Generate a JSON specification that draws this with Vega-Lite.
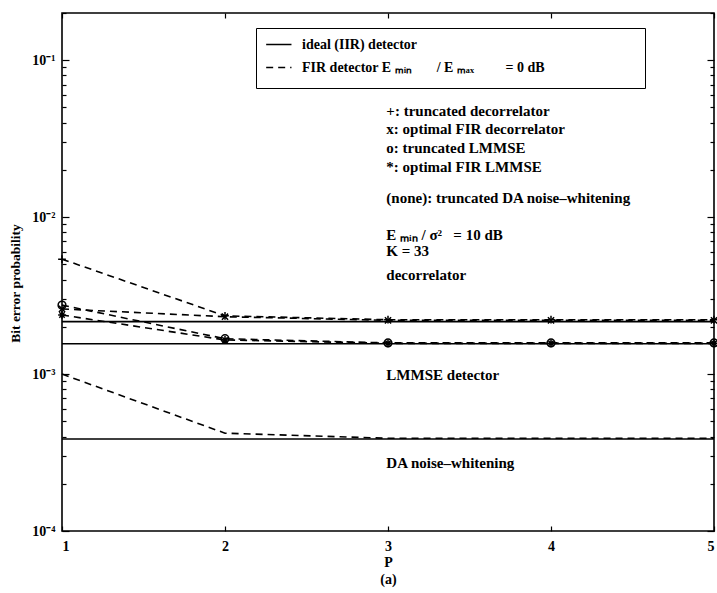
{
  "$schema": "https://vega.github.io/schema/vega-lite/v6.json",
  "width": 652,
  "height": 518,
  "autosize": {"type": "none"},
  "padding": {"left": 62, "top": 13, "right": 3, "bottom": 62},
  "background": "white",
  "config": {
    "view": {"stroke": "black", "strokeWidth": 1.6},
    "font": "Liberation Serif",
    "axis": {
      "domain": false,
      "grid": false,
      "tickColor": "black",
      "tickWidth": 1.2,
      "labelColor": "black",
      "labelFont": "Liberation Serif",
      "labelFontWeight": "bold",
      "labelFontSize": 14,
      "titleColor": "black",
      "titleFont": "Liberation Serif",
      "titleFontWeight": "bold",
      "titleFontSize": 14
    }
  },
  "datasets": {
    "curves": [
      {"series": "ideal decorrelator", "kind": "ideal (IIR) detector", "marker": "none", "P": 1, "ber": 0.00216},
      {"series": "ideal decorrelator", "kind": "ideal (IIR) detector", "marker": "none", "P": 2, "ber": 0.00216},
      {"series": "ideal decorrelator", "kind": "ideal (IIR) detector", "marker": "none", "P": 3, "ber": 0.00216},
      {"series": "ideal decorrelator", "kind": "ideal (IIR) detector", "marker": "none", "P": 4, "ber": 0.00216},
      {"series": "ideal decorrelator", "kind": "ideal (IIR) detector", "marker": "none", "P": 5, "ber": 0.00216},
      {"series": "ideal LMMSE", "kind": "ideal (IIR) detector", "marker": "none", "P": 1, "ber": 0.00156},
      {"series": "ideal LMMSE", "kind": "ideal (IIR) detector", "marker": "none", "P": 2, "ber": 0.00156},
      {"series": "ideal LMMSE", "kind": "ideal (IIR) detector", "marker": "none", "P": 3, "ber": 0.00156},
      {"series": "ideal LMMSE", "kind": "ideal (IIR) detector", "marker": "none", "P": 4, "ber": 0.00156},
      {"series": "ideal LMMSE", "kind": "ideal (IIR) detector", "marker": "none", "P": 5, "ber": 0.00156},
      {"series": "ideal DA", "kind": "ideal (IIR) detector", "marker": "none", "P": 1, "ber": 0.000386},
      {"series": "ideal DA", "kind": "ideal (IIR) detector", "marker": "none", "P": 2, "ber": 0.000386},
      {"series": "ideal DA", "kind": "ideal (IIR) detector", "marker": "none", "P": 3, "ber": 0.000386},
      {"series": "ideal DA", "kind": "ideal (IIR) detector", "marker": "none", "P": 4, "ber": 0.000386},
      {"series": "ideal DA", "kind": "ideal (IIR) detector", "marker": "none", "P": 5, "ber": 0.000386},
      {"series": "truncated decorrelator", "kind": "FIR", "marker": "plus", "P": 1, "ber": 0.0054},
      {"series": "truncated decorrelator", "kind": "FIR", "marker": "plus", "P": 2, "ber": 0.00235},
      {"series": "truncated decorrelator", "kind": "FIR", "marker": "plus", "P": 3, "ber": 0.00222},
      {"series": "truncated decorrelator", "kind": "FIR", "marker": "plus", "P": 4, "ber": 0.00222},
      {"series": "truncated decorrelator", "kind": "FIR", "marker": "plus", "P": 5, "ber": 0.00222},
      {"series": "optimal FIR decorrelator", "kind": "FIR", "marker": "cross", "P": 1, "ber": 0.0026},
      {"series": "optimal FIR decorrelator", "kind": "FIR", "marker": "cross", "P": 2, "ber": 0.00232},
      {"series": "optimal FIR decorrelator", "kind": "FIR", "marker": "cross", "P": 3, "ber": 0.0022},
      {"series": "optimal FIR decorrelator", "kind": "FIR", "marker": "cross", "P": 4, "ber": 0.0022},
      {"series": "optimal FIR decorrelator", "kind": "FIR", "marker": "cross", "P": 5, "ber": 0.0022},
      {"series": "truncated LMMSE", "kind": "FIR", "marker": "circle", "P": 1, "ber": 0.00275},
      {"series": "truncated LMMSE", "kind": "FIR", "marker": "circle", "P": 2, "ber": 0.00168},
      {"series": "truncated LMMSE", "kind": "FIR", "marker": "circle", "P": 3, "ber": 0.00158},
      {"series": "truncated LMMSE", "kind": "FIR", "marker": "circle", "P": 4, "ber": 0.00158},
      {"series": "truncated LMMSE", "kind": "FIR", "marker": "circle", "P": 5, "ber": 0.00158},
      {"series": "optimal FIR LMMSE", "kind": "FIR", "marker": "star", "P": 1, "ber": 0.00238},
      {"series": "optimal FIR LMMSE", "kind": "FIR", "marker": "star", "P": 2, "ber": 0.00165},
      {"series": "optimal FIR LMMSE", "kind": "FIR", "marker": "star", "P": 3, "ber": 0.00157},
      {"series": "optimal FIR LMMSE", "kind": "FIR", "marker": "star", "P": 4, "ber": 0.00157},
      {"series": "optimal FIR LMMSE", "kind": "FIR", "marker": "star", "P": 5, "ber": 0.00157},
      {"series": "truncated DA noise-whitening", "kind": "FIR", "marker": "none", "P": 1, "ber": 0.001},
      {"series": "truncated DA noise-whitening", "kind": "FIR", "marker": "none", "P": 2, "ber": 0.00042},
      {"series": "truncated DA noise-whitening", "kind": "FIR", "marker": "none", "P": 3, "ber": 0.00039},
      {"series": "truncated DA noise-whitening", "kind": "FIR", "marker": "none", "P": 4, "ber": 0.00039},
      {"series": "truncated DA noise-whitening", "kind": "FIR", "marker": "none", "P": 5, "ber": 0.00039}
    ],
    "notes": [
      {"label": "+: truncated decorrelator", "P": 2.99, "ber": 0.0472},
      {"label": "x: optimal FIR decorrelator", "P": 2.99, "ber": 0.0367},
      {"label": "o: truncated LMMSE", "P": 2.99, "ber": 0.0277},
      {"label": "*: optimal FIR LMMSE", "P": 2.99, "ber": 0.021},
      {"label": "(none): truncated DA noise–whitening", "P": 2.99, "ber": 0.0132},
      {"label": "E ₘᵢₙ  / σ²\u2002 = 10 dB", "P": 2.99, "ber": 0.0077},
      {"label": "K = 33", "P": 2.99, "ber": 0.0061},
      {"label": "decorrelator", "P": 2.99, "ber": 0.0043},
      {"label": "LMMSE detector", "P": 2.99, "ber": 0.00098},
      {"label": "DA noise–whitening", "P": 2.99, "ber": 0.00027}
    ]
  },
  "layer": [
    {
      "data": {"name": "curves"},
      "mark": {"type": "line", "color": "black", "strokeWidth": 1.6},
      "encoding": {
        "x": {
          "field": "P",
          "type": "quantitative",
          "scale": {"domain": [1, 5], "nice": false, "zero": false},
          "axis": {
            "orient": "bottom",
            "values": [1, 2, 3, 4, 5],
            "format": "d",
            "tickSize": -5,
            "labelPadding": 13,
            "title": ["P", "(a)"],
            "titleLineHeight": 17,
            "titlePadding": 2
          }
        },
        "y": {
          "field": "ber",
          "type": "quantitative",
          "scale": {"type": "log", "domain": [0.0001, 0.2], "nice": false, "zero": false},
          "axis": {
            "orient": "left",
            "values": [0.0001, 0.0002, 0.0003, 0.0004, 0.0005, 0.0006, 0.0007, 0.0008, 0.0009, 0.001, 0.002, 0.003, 0.004, 0.005, 0.006, 0.007, 0.008, 0.009, 0.01, 0.02, 0.03, 0.04, 0.05, 0.06, 0.07, 0.08, 0.09, 0.1, 0.2],
            "labelExpr": "abs(datum.value - 0.1) < 1e-9 ? '10⁻¹' : abs(datum.value - 0.01) < 1e-9 ? '10⁻²' : abs(datum.value - 0.001) < 1e-9 ? '10⁻³' : abs(datum.value - 0.0001) < 1e-10 ? '10⁻⁴' : ''",
            "tickSize": {"condition": {"test": "abs(log(datum.value)/LN10 - round(log(datum.value)/LN10)) < 0.001", "value": -7}, "value": -4},
            "labelPadding": 14,
            "title": "Bit error probability",
            "titleX": -47,
            "titleY": 270,
            "titleAlign": "center",
            "titleBaseline": "middle",
            "titleFontSize": 13.5
          }
        },
        "detail": {"field": "series"},
        "strokeDash": {
          "field": "kind",
          "type": "nominal",
          "scale": {
            "domain": ["ideal (IIR) detector", "FIR"],
            "range": [[1, 0], [7, 5]]
          },
          "legend": {
            "orient": "none",
            "legendX": 194,
            "legendY": 15,
            "title": null,
            "strokeColor": "black",
            "fillColor": "white",
            "padding": 9,
            "labelFont": "Liberation Serif",
            "labelFontSize": 14,
            "labelFontWeight": "bold",
            "labelColor": "black",
            "labelLimit": 600,
            "labelOffset": 22,
            "rowPadding": 0,
            "symbolType": "M-1,-1.2M-1,0L3,0M57,0M-1,1.2",
            "symbolSize": 160,
            "symbolStrokeWidth": 1.5,
            "symbolStrokeColor": "black",
            "symbolFillColor": "transparent",
            "labelExpr": "datum.label == 'FIR' ? 'FIR detector E ₘᵢₙ\u2003\u2002 / E ₘₐₓ\u2003\u2003 = 0 dB' : datum.label"
          }
        }
      }
    },
    {
      "data": {"name": "curves"},
      "transform": [{"filter": "datum.marker != 'none'"}],
      "mark": {"type": "point", "filled": false, "color": "black", "strokeWidth": 1.5, "size": 60, "opacity": 1},
      "encoding": {
        "x": {
          "field": "P",
          "type": "quantitative",
          "scale": {"domain": [1, 5], "nice": false, "zero": false},
          "axis": {
            "orient": "top",
            "values": [1, 2, 3, 4, 5],
            "tickSize": -5,
            "labels": false,
            "title": null
          }
        },
        "y": {
          "field": "ber",
          "type": "quantitative",
          "scale": {"type": "log", "domain": [0.0001, 0.2], "nice": false, "zero": false},
          "axis": {
            "orient": "right",
            "values": [0.0001, 0.0002, 0.0003, 0.0004, 0.0005, 0.0006, 0.0007, 0.0008, 0.0009, 0.001, 0.002, 0.003, 0.004, 0.005, 0.006, 0.007, 0.008, 0.009, 0.01, 0.02, 0.03, 0.04, 0.05, 0.06, 0.07, 0.08, 0.09, 0.1, 0.2],
            "tickSize": {"condition": {"test": "abs(log(datum.value)/LN10 - round(log(datum.value)/LN10)) < 0.001", "value": -7}, "value": -4},
            "labels": false,
            "title": null
          }
        },
        "shape": {
          "field": "marker",
          "type": "nominal",
          "scale": {
            "domain": ["plus", "cross", "circle", "star"],
            "range": [
              "M-1,0L1,0M0,-1L0,1",
              "M-0.8,-0.8L0.8,0.8M-0.8,0.8L0.8,-0.8",
              "circle",
              "M-1,0L1,0M0,-1L0,1M-0.7,-0.7L0.7,0.7M-0.7,0.7L0.7,-0.7"
            ]
          },
          "legend": null
        }
      }
    },
    {
      "data": {"name": "notes"},
      "mark": {
        "type": "text",
        "align": "left",
        "baseline": "middle",
        "font": "Liberation Serif",
        "fontSize": 15,
        "fontWeight": "bold",
        "color": "black"
      },
      "encoding": {
        "x": {"field": "P", "type": "quantitative", "scale": {"domain": [1, 5], "nice": false, "zero": false}, "axis": null},
        "y": {"field": "ber", "type": "quantitative", "scale": {"type": "log", "domain": [0.0001, 0.2], "nice": false, "zero": false}, "axis": null},
        "text": {"field": "label"}
      }
    }
  ],
  "resolve": {"axis": {"x": "independent", "y": "independent"}}
}
